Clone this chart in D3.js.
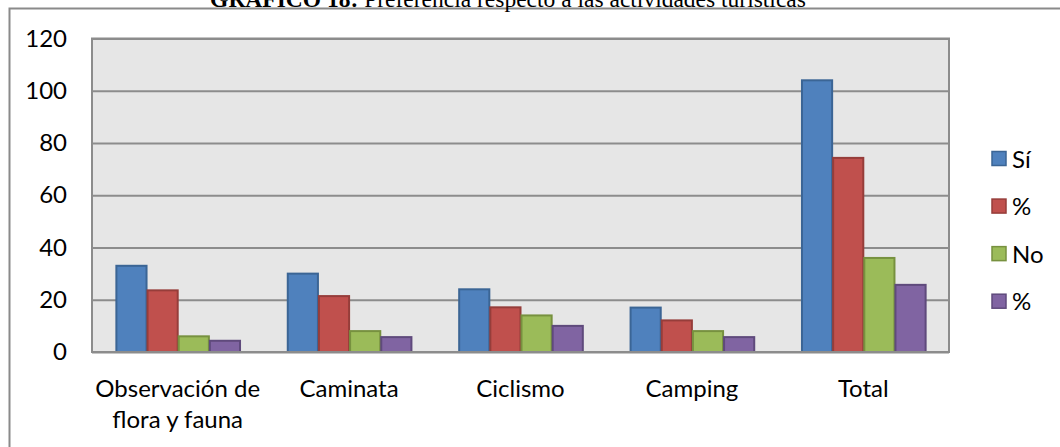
<!DOCTYPE html>
<html>
<head>
<meta charset="utf-8">
<script src="https://cdn.jsdelivr.net/npm/d3@7"></script>
<style>
  body { margin: 0; background: #fff; }
  svg { display: block; }
</style>
</head>
<body>
<svg id="chart" width="1060" height="447"></svg>
<script>
// data
const categories = ["Observación de\nflora y fauna", "Caminata", "Ciclismo", "Camping", "Total"]
const seriesNames = ["Sí", "%", "No", "%"]
const si = [33, 30, 24, 17, 104]
const siPct = [23.6, 21.4, 17.1, 12.1, 74.3]
const no = [6, 8, 14, 8, 36]
const noPct = [4.3, 5.7, 10, 5.7, 25.7]
const yTicks = [0, 20, 40, 60, 80, 100, 120]

const fills = ["#4f81bd", "#c0504d", "#9bbb59", "#8064a2"]
const strokes = ["#3b6595", "#963d3a", "#77913f", "#5f4a7c"]

const series = [si, siPct, no, noPct]

const svg = d3.select("#chart")
const font = "Lato, 'Open Sans', sans-serif"
const fontSize = "24px"

// outer chart frame
svg.append("rect")
    .attr("x", 9.5).attr("y", 8.5)
    .attr("width", 1100).attr("height", 500)
    .attr("fill", "none")
    .attr("stroke", "#8a8a8a")
    .attr("stroke-width", 2)

// title (cut at the top like the original)
const title = svg.append("text")
    .attr("x", 508).attr("y", 7)
    .attr("text-anchor", "middle")
    .style("font-family", "'Liberation Serif', 'Times New Roman', serif")
    .style("font-size", "23.5px")
    .attr("fill", "#000")
title.append("tspan").attr("font-weight", "bold").text("GRÁFICO 18:")
title.append("tspan").text(" Preferencia respecto a las actividades turísticas")

const plotL = 92, plotR = 949, plotT = 38.5, plotB = 352

let x0 = d3.scaleBand()
    .domain(categories)
    .range([plotL, plotR])
    .paddingInner(1.5 / 5.5)
    .paddingOuter(0.75 / 5.5)

let x1 = d3.scaleBand()
    .domain(d3.range(series.length))
    .range([0, x0.bandwidth()])

let y = d3.scaleLinear()
    .domain([0, 120])
    .range([plotB, plotT])

// plot area
svg.append("rect")
    .attr("x", plotL).attr("y", plotT)
    .attr("width", plotR - plotL).attr("height", plotB - plotT)
    .attr("fill", "#e6e6e6")
    .attr("stroke", "#8c8c8c")
    .attr("stroke-width", 2)

// gridlines
const grid = svg.append("g")
    .attr("transform", `translate(${plotL},0)`)
    .call(d3.axisLeft(y).tickValues(yTicks).tickSize(-(plotR - plotL)).tickFormat(""))
grid.select(".domain").remove()
grid.selectAll("line").attr("stroke", "#8c8c8c").attr("stroke-width", 2)

// y labels
const yAxis = svg.append("g")
    .attr("transform", `translate(${plotL},0)`)
    .call(d3.axisLeft(y).tickValues(yTicks).tickSize(0).tickPadding(25))
yAxis.select(".domain").remove()
yAxis.selectAll("text")
    .style("font-family", font)
    .style("font-size", fontSize)
    .attr("fill", "#000")

// bars
const groups = svg.append("g")
    .selectAll("g")
    .data(categories)
    .join("g")
    .attr("transform", d => `translate(${x0(d)},0)`)

groups.selectAll("rect")
    .data((d, i) => series.map((s, k) => ({ k: k, v: s[i] })))
    .join("rect")
    .attr("x", d => x1(d.k) + 1)
    .attr("y", d => y(d.v))
    .attr("width", x1.bandwidth() - 1)
    .attr("height", d => y(0) - y(d.v))
    .attr("fill", d => fills[d.k])
    .attr("stroke", d => strokes[d.k])
    .attr("stroke-width", 2)

// x axis line
svg.append("line")
    .attr("x1", plotL).attr("x2", plotR)
    .attr("y1", plotB).attr("y2", plotB)
    .attr("stroke", "#8c8c8c")
    .attr("stroke-width", 2)

// category labels
const xLabels = svg.append("g")
    .selectAll("text")
    .data(categories)
    .join("text")
    .attr("x", d => x0(d) + x0.bandwidth() / 2)
    .attr("y", 397)
    .attr("text-anchor", "middle")
    .style("font-family", font)
    .style("font-size", fontSize)
    .attr("fill", "#000")

xLabels.selectAll("tspan")
    .data(d => d.split("\n"))
    .join("tspan")
    .attr("x", function () { return d3.select(this.parentNode).attr("x") })
    .attr("dy", (d, i) => i === 0 ? 0 : 31)
    .text(d => d)

// legend
const legendY = d3.scalePoint()
    .domain(d3.range(seriesNames.length))
    .range([159, 301.7])

const legend = svg.append("g")
    .selectAll("g")
    .data(seriesNames)
    .join("g")
    .attr("transform", (d, i) => `translate(992,${legendY(i)})`)

legend.append("rect")
    .attr("x", 0).attr("y", -7.5)
    .attr("width", 14).attr("height", 14)
    .attr("fill", (d, i) => fills[i])
    .attr("stroke", (d, i) => strokes[i])
    .attr("stroke-width", 1.5)

legend.append("text")
    .attr("x", 20)
    .attr("dy", "0.36em")
    .style("font-family", font)
    .style("font-size", fontSize)
    .attr("fill", "#000")
    .text(d => d)
</script>
</body>
</html>
